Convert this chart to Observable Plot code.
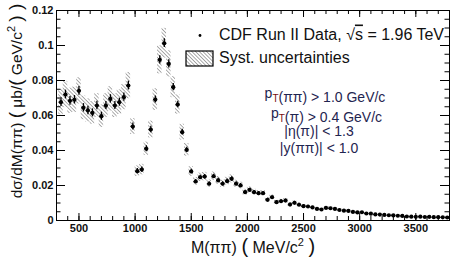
<!DOCTYPE html>
<html><head><meta charset="utf-8">
<script src="https://cdn.jsdelivr.net/npm/d3@7"></script>
<script src="https://cdn.jsdelivr.net/npm/@observablehq/plot@0.6"></script>
<style>body{margin:0;background:#fff} svg{display:block}</style>
</head><body><div id="chart"></div>
<script>
// Bin centres, MeV/c^2
const mass = [340,380,420,460,500,540,580,620,660,700,740,780,820,860,900,940,
  980,1020,1060,1100,1140,1180,1220,1260,1300,1340,1380,1420,1460,1500,
  1540,1580,1620,1660,1700,1740,1780,1820,1860,1900,1940,
  1980,2020,2060,2100,2140,2180,2220,2260,2300,2340,2380,2420,2460,2500,
  2540,2580,2620,2660,2700,2740,2780,2820,2860,2900,2940,2980,3020,3060,3100,3140,3180,3220,3260,3300,3340,3380,3420,3460,3500,3540,3580,3620,3660,3700,3740,3780];
// dσ/dM, μb/(GeV/c^2)
const xsec = [0.0676,0.0720,0.0684,0.0690,0.0741,0.0644,0.0629,0.0615,0.0657,0.0596,0.0657,0.0695,0.0657,0.0676,0.0705,0.0771,
  0.0537,0.0282,0.0291,0.0410,0.0520,0.0691,0.0918,0.1013,0.0895,0.0762,0.0663,0.0505,0.0404,0.0280,
  0.0223,0.0247,0.0251,0.0210,0.0253,0.0229,0.0210,0.0225,0.0238,0.0210,0.0200,
  0.0162,0.0175,0.0162,0.0156,0.0156,0.0118,0.0133,0.0105,0.0110,0.0114,0.0091,0.0101,0.0090,0.0082,
  0.0080,0.0075,0.0066,0.0063,0.0072,0.0070,0.0066,0.0060,0.0056,0.0055,0.0049,0.0046,0.0047,0.0040,0.0039,0.0035,0.0034,0.0032,0.0030,0.0029,0.0027,0.0026,0.0023,0.0022,0.0021,0.0022,0.0020,0.0021,0.0019,0.0019,0.0018,0.0017];
const statErr = [0.0025,0.0025,0.0025,0.0024,0.0025,0.0024,0.0024,0.0023,0.0024,0.0023,0.0023,0.0024,0.0023,0.0023,0.0024,0.0025,
  0.0020,0.0015,0.0015,0.0017,0.0018,0.0020,0.0024,0.0025,0.0023,0.0021,0.0019,0.0017,0.0015,0.0013,
  0.0012,0.0012,0.0012,0.0012,0.0012,0.0012,0.0012,0.0012,0.0012,0.0012,0.0012,
  0.0009,0.0009,0.0009,0.0009,0.0009,0.0009,0.0009,0.0009,0.0009,0.0009,0.0009,0.0009,0.0009,0.0009,
  0.0005,0.0005,0.0005,0.0005,0.0005,0.0005,0.0005,0.0005,0.0005,0.0005,0.0005,0.0005,0.0005,0.0005,0.0005,0.0005,0.0005,0.0005,0.0005,0.0005,0.0005,0.0005,0.0005,0.0005,0.0005,0.0005,0.0005,0.0005,0.0005,0.0005,0.0005,0.0005];
const systErr = [0.0072,0.0075,0.0072,0.0072,0.0075,0.0068,0.0066,0.0065,0.0068,0.0064,0.0068,0.0070,0.0068,0.0070,0.0072,0.0075,
  0.0045,0.0030,0.0030,0.0038,0.0048,0.0062,0.0080,0.0085,0.0075,0.0060,0.0055,0.0045,0.0036,0.0028,
  0.0022,0.0024,0.0024,0.0021,0.0024,0.0022,0.0021,0.0022,0.0023,0.0020,0.0019,
  0.0016,0.0017,0.0016,0.0015,0.0015,0.0012,0.0013,0.0010,0.0011,0.0011,0.0009,0.0010,0.0009,0.0008,
  0.0008,0.0007,0.0007,0.0006,0.0007,0.0007,0.0007,0.0006,0.0006,0.0005,0.0005,0.0005,0.0005,0.0004,0.0004,0.0004,0.0003,0.0003,0.0003,0.0003,0.0003,0.0003,0.0002,0.0002,0.0002,0.0002,0.0002,0.0002,0.0002,0.0002,0.0002,0.0002];
const binHalfWidth = 20;
const xTickLabels = [500,1000,1500,2000,2500,3000,3500];
const yTickLabels = [0,0.02,0.04,0.06,0.08,0.1,0.12];
const xMinorTicks = d3.range(300, 3801, 100);
const yMinorTicks = d3.range(0, 0.1201, 0.005);

const rows = mass.map((m, i) => ({m, v: xsec[i], st: statErr[i], sy: systErr[i]}));

const W = 452, H = 266, ML = 56, MR = 3, MT = 10, MB = 46;
const PW = W - ML - MR, PH = H - MT - MB;
const FONT = "'Liberation Sans', Arial, Helvetica, sans-serif";

const plot = Plot.plot({
  width: W, height: H,
  marginLeft: ML, marginRight: MR, marginTop: MT, marginBottom: MB,
  x: {domain: [300, 3800], label: null},
  y: {domain: [0, 0.12], label: null},
  style: {fontFamily: FONT, background: "white", color: "#111"},
  marks: [
    Plot.rect(rows, {x1: d => d.m - binHalfWidth, x2: d => d.m + binHalfWidth, y1: d => d.v - d.sy, y2: d => d.v + d.sy, fill: "url(#hatch)"}),
    Plot.ruleX(rows, {x: "m", y1: d => d.v - d.st, y2: d => d.v + d.st, stroke: "black", strokeWidth: 1.3}),
    Plot.ruleY(rows, {y: "v", x1: d => d.m - 15, x2: d => d.m + 15, stroke: "black", strokeWidth: 1.3}),
    Plot.dot(rows, {x: "m", y: "v", r: 2.1, fill: "black", stroke: "none"}),
    // ticks on all four sides, pointing inward
    Plot.ruleX(xTickLabels, {x: d => d, insetTop: PH - 7, stroke: "black"}),
    Plot.ruleX(xTickLabels, {x: d => d, insetBottom: PH - 7, stroke: "black"}),
    Plot.ruleX(xMinorTicks, {x: d => d, insetTop: PH - 4, stroke: "black"}),
    Plot.ruleX(xMinorTicks, {x: d => d, insetBottom: PH - 4, stroke: "black"}),
    Plot.ruleY(yTickLabels, {y: d => d, insetRight: PW - 9, stroke: "black"}),
    Plot.ruleY(yTickLabels, {y: d => d, insetLeft: PW - 9, stroke: "black"}),
    Plot.ruleY(yMinorTicks, {y: d => d, insetRight: PW - 4.5, stroke: "black"}),
    Plot.ruleY(yMinorTicks, {y: d => d, insetLeft: PW - 4.5, stroke: "black"}),
    Plot.frame({stroke: "black", strokeWidth: 1}),
    Plot.axisX(xTickLabels, {tickSize: 0, tickPadding: 4, tickFormat: d => String(d), fontSize: 11, fontWeight: "bold", fill: "#111", label: null}),
    Plot.axisY(yTickLabels, {tickSize: 0, tickPadding: 3, tickFormat: d => String(d), fontSize: 11, fontWeight: "bold", fill: "#111", label: null})
  ]
});

const svg = d3.select(plot);
const defs = svg.insert("defs", ":first-child");
const pat = defs.append("pattern").attr("id", "hatch").attr("patternUnits", "userSpaceOnUse")
  .attr("width", 2.6).attr("height", 2.6).attr("patternTransform", "rotate(-45)");
pat.append("line").attr("x1", 0).attr("y1", 0).attr("x2", 0).attr("y2", 2.6)
  .attr("stroke", "#666").attr("stroke-width", 1.1);

const txt = svg.append("g").attr("font-family", FONT).attr("fill", "#111").attr("text-anchor", "start");

// x axis title
const xt = txt.append("text").attr("x", 253).attr("y", 253).attr("text-anchor", "middle").attr("font-size", 16);
xt.append("tspan").text("M(ππ) ");
xt.append("tspan").attr("font-size", 20).text("(");
xt.append("tspan").text(" MeV/c");
xt.append("tspan").attr("font-size", 11).attr("dy", -7).text("2");
xt.append("tspan").attr("dy", 7).text(" ");
xt.append("tspan").attr("font-size", 20).text(")");

// y axis title
const yt = txt.append("text").attr("transform", "translate(22,101) rotate(-90)").attr("text-anchor", "middle").attr("font-size", 15.5);
yt.append("tspan").text("dσ/dM(ππ) ");
yt.append("tspan").attr("font-size", 19).text("(");
yt.append("tspan").text(" μb/");
yt.append("tspan").attr("font-size", 19).text("(");
yt.append("tspan").text(" GeV/c");
yt.append("tspan").attr("font-size", 11).attr("dy", -7).text("2");
yt.append("tspan").attr("dy", 7).text(" ");
yt.append("tspan").attr("font-size", 19).text(") )");

// legend
txt.append("circle").attr("cx", 200).attr("cy", 35.5).attr("r", 1.4).attr("fill", "black");
const l1 = txt.append("text").attr("x", 219).attr("y", 39.5).attr("font-size", 16);
l1.append("tspan").text("CDF Run II Data, √");
l1.append("tspan").style("text-decoration", "overline").text("s");
l1.append("tspan").text(" = 1.96 TeV");
txt.append("rect").attr("x", 186).attr("y", 51).attr("width", 27).attr("height", 15)
  .attr("fill", "url(#hatch)").attr("stroke", "black").attr("stroke-width", 1.2);
txt.append("text").attr("x", 219).attr("y", 63.3).attr("font-size", 16).text("Syst. uncertainties");

// cuts
const cuts = [
  {x: 325, y: 97.5, parts: [["p"], ["T", "sub"], ["(ππ) > 1.0 GeV/c"]]},
  {x: 326.5, y: 117.5, parts: [["p"], ["T", "sub"], ["(π) > 0.4 GeV/c"]]},
  {x: 319, y: 136, parts: [["|η(π)| < 1.3"]]},
  {x: 319, y: 152.5, parts: [["|y(ππ)| < 1.0"]]}
];
const cutColor = "#1f2550";
cuts.forEach(c => {
  const t = txt.append("text").attr("x", c.x).attr("y", c.y).attr("text-anchor", "middle").attr("font-size", 14).attr("fill", cutColor);
  c.parts.forEach(([s, kind]) => {
    if (kind === "sub") {
      t.append("tspan").attr("font-size", 10).attr("dy", 4).attr("fill", "#7a1010").text(s);
      t.append("tspan").attr("dy", -4).text("");
    } else t.append("tspan").text(s);
  });
});

document.getElementById("chart").appendChild(plot);
</script>
</body></html>
